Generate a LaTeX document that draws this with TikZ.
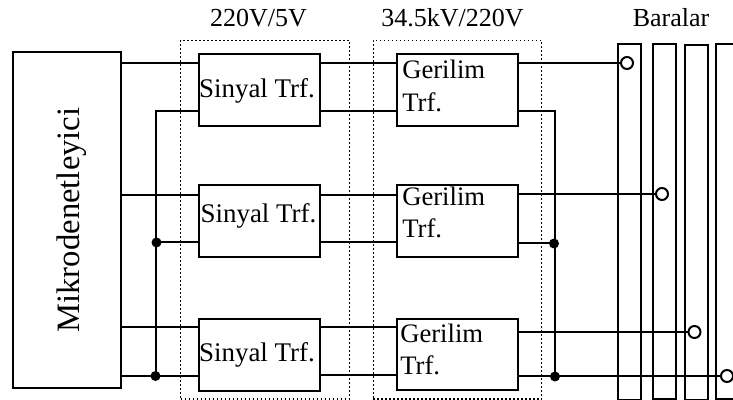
\documentclass[tikz,border=0pt]{standalone}
\usepackage{fontspec}
\setmainfont{Liberation Serif}
\tikzset{
  wire/.style={line width=1.5pt,line cap=butt},
  box/.style={draw,line width=1.5pt,inner sep=0pt,fill=none},
  dotbox/.style={draw,line width=1pt,dotted,inner sep=0pt},
  bar/.style={draw,line width=1.5pt,inner sep=0pt},
  lbl/.style={font=\fontsize{19.5pt}{19.5pt}\selectfont,anchor=base,inner sep=0pt},
  slbl/.style={font=\fontsize{20.2pt}{20.2pt}\selectfont,anchor=base,inner sep=0pt},
  llbl/.style={font=\fontsize{20pt}{20pt}\selectfont,inner sep=0pt,anchor=base west},
  openc/.style={circle,draw,fill=white,line width=1.5pt,minimum size=9pt,inner sep=0pt},
  jdot/.style={circle,fill=black,minimum size=7.5pt,inner sep=0pt}
}
\begin{document}
\begin{tikzpicture}[x=0.75pt,y=-0.75pt]
\useasboundingbox (0,0) rectangle (733,400);
\node[box,minimum width=81pt,minimum height=252pt,anchor=north west] (m) at (12,51) {};
\node[box,minimum width=90.4pt,minimum height=54pt,anchor=north west] (s1) at (198,53) {};
\node[box,minimum width=90.4pt,minimum height=53.7pt,anchor=north west] (s2) at (198,184) {};
\node[box,minimum width=90.4pt,minimum height=54pt,anchor=north west] (s3) at (198,318) {};
\node[box,minimum width=90.5pt,minimum height=54pt,anchor=north west] (g1) at (396,53) {};
\node[box,minimum width=90.5pt,minimum height=53.7pt,anchor=north west] (g2) at (396,184) {};
\node[box,minimum width=90.5pt,minimum height=53.6pt,anchor=north west] (g3) at (396,318) {};
\node[dotbox,minimum width=126.4pt,minimum height=269.2pt,anchor=north west] (d1) at (180,39.5) {};
\node[dotbox,minimum width=126.4pt,minimum height=269.2pt,anchor=north west] (d2) at (372.5,39.5) {};
\node[bar,minimum width=17.25pt,minimum height=267pt,anchor=north west] (b1) at (617,43) {};
\node[bar,minimum width=17.25pt,minimum height=266.25pt,anchor=north west] (b2) at (652,43) {};
\node[bar,minimum width=17.25pt,minimum height=266.25pt,anchor=north west] (b3) at (684,44) {};
\draw[line width=1.5pt] (733,44) -- (716,44) -- (716,399) -- (733,399);
% junctions and terminals
\coordinate (tl) at (156,111);
\coordinate (bl) at (156,376);
\coordinate (tr) at (555,111);
\coordinate (br) at (555,376);
% wires
\draw[wire] (m.east |- 0,63) -- (s1.west |- 0,63);
\draw[wire] (m.east |- 0,195) -- (s2.west |- 0,195);
\draw[wire] (m.east |- 0,327) -- (s3.west |- 0,327);
\draw[wire] (m.east |- bl) -- (s3.west |- bl);
\draw[wire] (s1.west |- tl) -- (tl) -- (bl);
\draw[wire] (156,242) -- (s2.west |- 0,242);
\draw[wire] (s1.east |- 0,63) -- (g1.west |- 0,63);
\draw[wire] (s1.east |- tl) -- (g1.west |- tl);
\draw[wire] (s2.east |- 0,195) -- (g2.west |- 0,195);
\draw[wire] (s2.east |- 0,242) -- (g2.west |- 0,242);
\draw[wire] (s3.east |- 0,327) -- (g3.west |- 0,327);
\draw[wire] (s3.east |- 0,375) -- (g3.west |- 0,375);
\draw[wire] (g1.east |- tr) -- (tr) -- (br);
\draw[wire] (g2.east |- 0,243) -- (555,243);
\node[openc] (c1) at (627,63) {};
\node[openc] (c2) at (662,194) {};
\node[openc] (c3) at (694.5,332) {};
\node[openc] (c4) at (727,376) {};
\draw[wire] (g1.east |- c1) -- (c1);
\draw[wire] (g2.east |- c2) -- (c2);
\draw[wire] (g3.east |- c3) -- (c3);
\draw[wire] (g3.east |- c4) -- (c4);
\node[jdot] (j1) at (156.5,242.5) {};
\node[jdot] (j2) at (155.5,376) {};
\node[jdot] (j3) at (554,243.5) {};
\node[jdot] (j4) at (555,376.5) {};
% labels
\node[lbl] (t1) at (258.5,26) {220V/5V};
\node[lbl] (t2) at (452.5,26) {34.5kV/220V};
\node[lbl] (t3) at (671,26) {Baralar};
\node[slbl] (l1) at (257,97) {Sinyal Trf.};
\node[slbl] (l2) at (258.5,222.7) {Sinyal Trf.};
\node[slbl] (l3) at (257,361) {Sinyal Trf.};
\node[llbl] (g1a) at (402,78.7) {Gerilim};
\node[llbl] (g1b) at (402,111) {Trf.};
\node[llbl] (g2a) at (402,205) {Gerilim};
\node[llbl] (g2b) at (402,237) {Trf.};
\node[llbl] (g3a) at (400,342.7) {Gerilim};
\node[llbl] (g3b) at (400,374) {Trf.};
\node[font=\fontsize{24.5pt}{24.5pt}\selectfont,inner sep=0pt,rotate=90,anchor=base] (mt) at (79.5,220) {Mikrodenetleyici};
\end{tikzpicture}
\end{document}
